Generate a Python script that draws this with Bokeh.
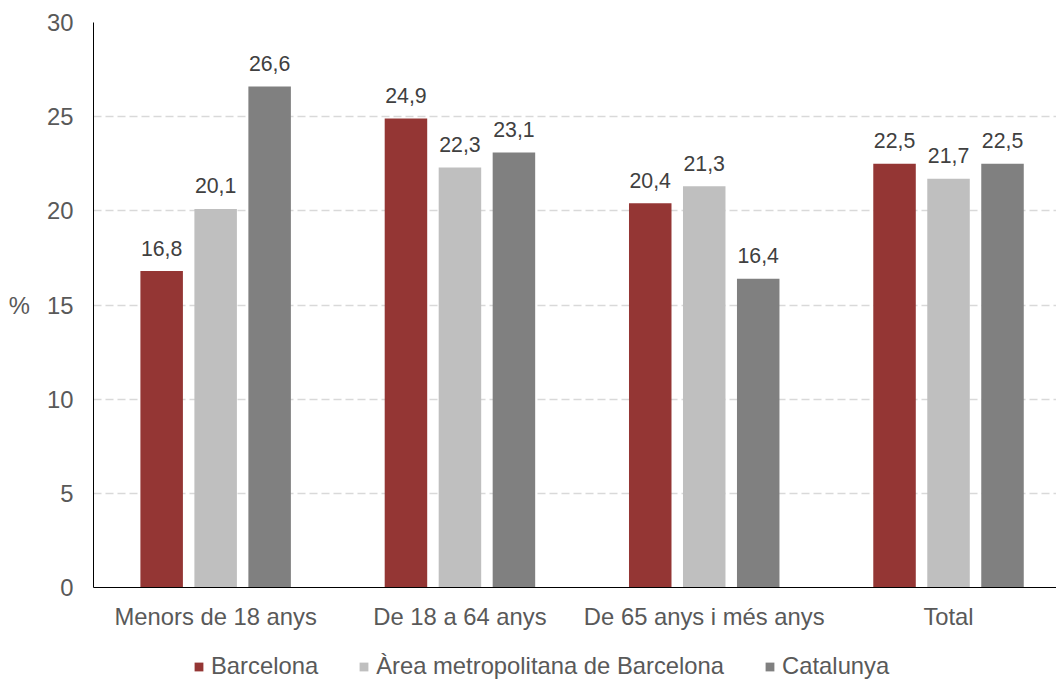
from bokeh.plotting import figure
from bokeh.layouts import column
from bokeh.models import ColumnDataSource, Range1d, FixedTicker, Legend, LegendItem
from bokeh.core.properties import value
from bokeh.transform import dodge
from bokeh.embed import file_html
from bokeh.resources import INLINE

categories = ["Menors de 18 anys", "De 18 a 64 anys", "De 65 anys i més anys", "Total"]
series_names = ["Barcelona", "Àrea metropolitana de Barcelona", "Catalunya"]
barcelona = [16.8, 24.9, 20.4, 22.5]
area_metro = [20.1, 22.3, 21.3, 21.7]
catalunya = [26.6, 23.1, 16.4, 22.5]
y_ticks = [0, 5, 10, 15, 20, 25, 30]

colors = ["#943634", "#BFBFBF", "#808080"]
offsets = [-0.221, 0.0, 0.221]
bar_w = 0.174
FONT = value("Liberation Sans")
LBL = "23.8px"

xs = [i + 0.5 for i in range(len(categories))]
all_series = [barcelona, area_metro, catalunya]

p = figure(width=1056, height=636, x_range=Range1d(0, 3.942), y_range=Range1d(0, 30),
           output_backend="svg", toolbar_location=None,
           min_border_left=93, min_border_right=0, min_border_top=22, min_border_bottom=49)
p.outline_line_color = None
p.background_fill_color = "white"
p.border_fill_color = "white"

sources = []
for name, vals, col, off in zip(series_names, all_series, colors, offsets):
    src = ColumnDataSource(dict(x=xs, y=vals, label=[f"{v:.1f}".replace(".", ",") for v in vals]))
    sources.append(src)
    p.vbar(x=dodge("x", off, range=p.x_range), top="y", width=bar_w, bottom=0,
           source=src, fill_color=col, line_color=None)
    p.text(x=dodge("x", off, range=p.x_range), y="y", text="label", source=src,
           text_align="center", text_baseline="middle", y_offset=-23,
           text_font=FONT, text_font_size="21.3px", text_color="#404040")

# axes
p.xaxis.ticker = FixedTicker(ticks=xs)
p.xaxis.major_label_overrides = {x: c for x, c in zip(xs, categories)}
p.xaxis.major_tick_line_color = None
p.xaxis.minor_tick_line_color = None
p.xaxis.major_tick_out = 0
p.xaxis.major_tick_in = 0
p.xaxis.minor_tick_out = 0
p.xaxis.axis_line_color = "#000000"
p.xaxis.axis_line_width = 1
p.xaxis.major_label_text_font = "Liberation Sans"
p.xaxis.major_label_text_font_size = LBL
p.xaxis.major_label_text_color = "#595959"
p.xaxis.major_label_standoff = 15

p.yaxis.ticker = FixedTicker(ticks=y_ticks)
p.yaxis.major_tick_line_color = None
p.yaxis.minor_tick_line_color = None
p.yaxis.major_tick_out = 0
p.yaxis.major_tick_in = 0
p.yaxis.minor_tick_out = 0
p.yaxis.axis_line_color = "#000000"
p.yaxis.axis_line_width = 1
p.yaxis.major_label_text_font = "Liberation Sans"
p.yaxis.major_label_text_font_size = LBL
p.yaxis.major_label_text_color = "#595959"
p.yaxis.major_label_standoff = 20
p.yaxis.axis_label = "%"
p.yaxis.axis_label_orientation = "horizontal"
p.yaxis.axis_label_text_font = "Liberation Sans"
p.yaxis.axis_label_text_font_size = LBL
p.yaxis.axis_label_text_font_style = "normal"
p.yaxis.axis_label_text_color = "#595959"
p.yaxis.axis_label_standoff = 14

p.xgrid.grid_line_color = None
p.ygrid.grid_line_color = "#D9D9D9"
p.ygrid.grid_line_width = 1.5
p.ygrid.grid_line_dash = "8 4"

# legend panel (separate small figure below the chart; its bars lie far outside its view)
lg = figure(width=1056, height=44, x_range=Range1d(0, 3.942), y_range=Range1d(1000, 1001),
            output_backend="svg", toolbar_location=None,
            x_axis_location=None, y_axis_location=None,
            min_border_left=93, min_border_right=0, min_border_top=0, min_border_bottom=0)
lg.outline_line_color = None
lg.xgrid.grid_line_color = None
lg.ygrid.grid_line_color = None
items = []
for name, src, col, off in zip(series_names, sources, colors, offsets):
    r = lg.vbar(x=dodge("x", off, range=lg.x_range), top="y", width=bar_w, bottom=0,
                source=src, fill_color=col, line_color=None)
    items.append(LegendItem(label=name, renderers=[r]))
legend = Legend(items=items, orientation="horizontal", location=(100, 0),
                glyph_width=11, glyph_height=11, label_standoff=7, spacing=40,
                label_text_font="Liberation Sans", label_text_font_size=LBL,
                label_text_color="#595959", padding=0, margin=0,
                border_line_color=None, background_fill_alpha=0)
lg.add_layout(legend, "center")

layout = column(p, lg, spacing=0)
open("out.html", "w").write(file_html(layout, INLINE))
